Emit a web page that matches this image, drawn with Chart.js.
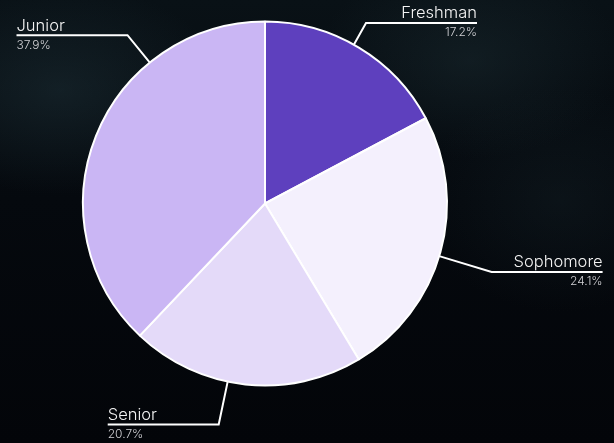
<!DOCTYPE html>
<html>
<head>
<meta charset="utf-8">
<script src="https://cdn.jsdelivr.net/npm/chart.js@4.4.1/dist/chart.umd.min.js"></script>
<style>
  html, body { margin: 0; padding: 0; }
  body {
    width: 614px; height: 443px; overflow: hidden;
    background:
      radial-gradient(ellipse 240px 150px at 60px 90px, rgba(36,58,66,0.40), rgba(36,58,66,0) 70%),
      radial-gradient(ellipse 220px 140px at 470px 60px, rgba(34,54,60,0.35), rgba(34,54,60,0) 70%),
      radial-gradient(ellipse 200px 160px at 560px 200px, rgba(26,42,48,0.30), rgba(26,42,48,0) 70%),
      linear-gradient(180deg, #091116 0%, #05090e 45%, #030509 100%);
  }
  #wrap { position: absolute; left: 0; top: 0; width: 614px; height: 443px; }
</style>
</head>
<body>
<div id="wrap"><canvas id="c" width="614" height="443"></canvas></div>
<script>
const categories = ['Freshman', 'Sophomore', 'Senior', 'Junior'];
const studentCounts = [5, 7, 6, 11];
const sliceColors = ['#5e40be', '#f4f0fd', '#e4daf9', '#cab6f4'];

const calloutPlugin = {
  id: 'callouts',
  afterDatasetsDraw(chart, args, opts) {
    const ctx = chart.ctx;
    const meta = chart.getDatasetMeta(0);
    const data = chart.data.datasets[0].data;
    const total = data.reduce((a, b) => a + b, 0);
    meta.data.forEach((arc, i) => {
      const p = arc.getProps(['x', 'y', 'outerRadius'], true);
      const spec = opts.anchors[i];
      const ex = p.x + spec.dx, ey = p.y + spec.dy;
      const len = Math.hypot(spec.dx, spec.dy);
      const sx = p.x + spec.dx / len * p.outerRadius;
      const sy = p.y + spec.dy / len * p.outerRadius;
      const endX = ex + spec.side * opts.lineLength;
      ctx.save();
      ctx.strokeStyle = '#ffffff';
      ctx.lineWidth = 2;
      ctx.beginPath();
      ctx.moveTo(sx, sy);
      ctx.lineTo(ex, ey);
      ctx.lineTo(endX, ey);
      ctx.stroke();
      ctx.textAlign = spec.side > 0 ? 'right' : 'left';
      ctx.textBaseline = 'alphabetic';
      ctx.fillStyle = '#f4f4f4';
      ctx.font = '300 16.5px Inter, "Noto Sans", sans-serif';
      ctx.fillText(chart.data.labels[i], endX, ey - 4.5);
      ctx.fillStyle = '#d0d0d4';
      ctx.font = '300 12px Inter, "Noto Sans", sans-serif';
      const pct = (data[i] / total * 100).toFixed(1) + '%';
      ctx.fillText(pct, endX, ey + 13.5);
      ctx.restore();
    });
  }
};

new Chart(document.getElementById('c'), {
  type: 'pie',
  data: {
    labels: categories,
    datasets: [{
      data: studentCounts,
      backgroundColor: sliceColors,
      borderColor: '#ffffff',
      borderWidth: 2
    }]
  },
  options: {
    responsive: false,
    animation: false,
    radius: 182,
    layout: { padding: { left: 0, right: 84, top: 0, bottom: 36 } },
    plugins: {
      legend: { display: false },
      tooltip: { enabled: false },
      callouts: {
        lineLength: 111,
        anchors: [
          { dx: 101, dy: -180.6, side: 1 },
          { dx: 226.6, dy: 68.4, side: 1 },
          { dx: -46.3, dy: 221, side: -1 },
          { dx: -137.5, dy: -168.3, side: -1 }
        ]
      }
    }
  },
  plugins: [calloutPlugin]
});
</script>
</body>
</html>
